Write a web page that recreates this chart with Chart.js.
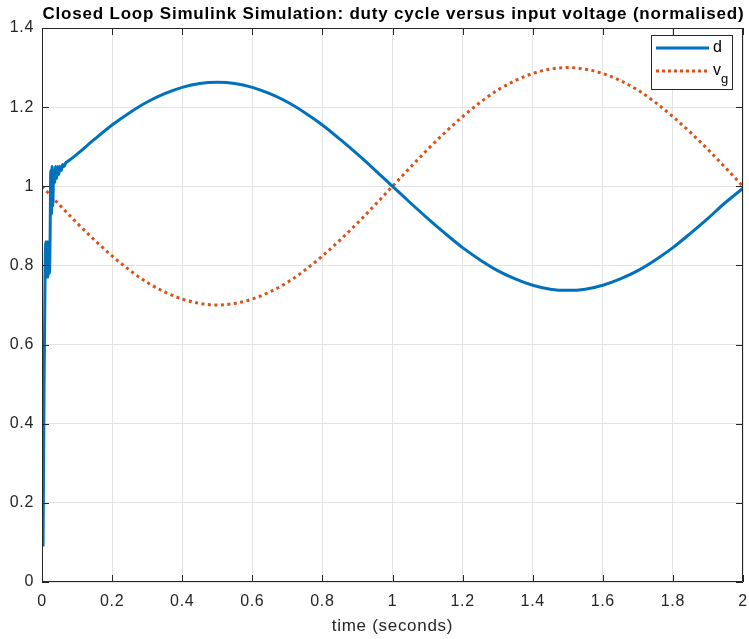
<!DOCTYPE html>
<html>
<head>
<meta charset="utf-8">
<script src="https://cdn.jsdelivr.net/npm/chart.js@4"></script>
<style>
html,body{margin:0;padding:0;background:#fff;}
canvas{display:block;}
</style>
</head>
<body>
<canvas id="c" width="749" height="639"></canvas>
<script>
// ---- data ----
const chartTitle = "Closed Loop Simulink Simulation: duty cycle versus input voltage (normalised)";
const xAxisLabel = "time (seconds)";
const xTicks = [0, 0.2, 0.4, 0.6, 0.8, 1, 1.2, 1.4, 1.6, 1.8, 2];
const yTicks = [0, 0.2, 0.4, 0.6, 0.8, 1, 1.2, 1.4];

const dTime = [0.003, 0.006, 0.009, 0.011, 0.013, 0.015, 0.017, 0.019, 0.021, 0.023, 0.025, 0.027,
  0.029, 0.031, 0.033, 0.036, 0.039, 0.042, 0.045, 0.048, 0.051, 0.055, 0.059, 0.063, 0.068, 0.072,
  0.10, 0.15, 0.20, 0.25, 0.30, 0.35, 0.40, 0.45, 0.50, 0.55, 0.60, 0.65, 0.70, 0.75, 0.80, 0.85,
  0.90, 0.95, 1.00, 1.05, 1.10, 1.15, 1.20, 1.25, 1.30, 1.35, 1.40, 1.45, 1.50, 1.55, 1.60, 1.65,
  1.70, 1.75, 1.80, 1.85, 1.90, 1.95, 2.00];
const dValues = [0.09, 0.50, 0.80, 0.86, 0.77, 0.86, 0.77, 0.86, 0.78, 0.86, 1.04, 0.93,
  1.05, 0.95, 1.04, 1.01, 1.05, 1.02, 1.05, 1.03, 1.05, 1.04, 1.055, 1.05, 1.06, 1.062,
  1.081, 1.119, 1.155, 1.186, 1.213, 1.234, 1.250, 1.260, 1.263, 1.260, 1.250, 1.234, 1.213, 1.186, 1.155, 1.119,
  1.081, 1.041, 1.000, 0.959, 0.919, 0.881, 0.845, 0.814, 0.787, 0.766, 0.750, 0.740, 0.737, 0.740, 0.750, 0.766,
  0.787, 0.814, 0.845, 0.881, 0.919, 0.959, 0.995];

const vgTime = [0, 0.05, 0.10, 0.15, 0.20, 0.25, 0.30, 0.35, 0.40, 0.45, 0.50, 0.55, 0.60, 0.65, 0.70,
  0.75, 0.80, 0.85, 0.90, 0.95, 1.00, 1.05, 1.10, 1.15, 1.20, 1.25, 1.30, 1.35, 1.40, 1.45, 1.50,
  1.55, 1.60, 1.65, 1.70, 1.75, 1.80, 1.85, 1.90, 1.95, 2.00];
const vgValues = [1.000, 0.953, 0.907, 0.864, 0.824, 0.788, 0.757, 0.733, 0.715, 0.704, 0.700, 0.704, 0.715, 0.733, 0.757,
  0.788, 0.824, 0.864, 0.907, 0.953, 1.000, 1.047, 1.093, 1.136, 1.176, 1.212, 1.243, 1.267, 1.285, 1.296, 1.300,
  1.296, 1.285, 1.267, 1.243, 1.212, 1.176, 1.136, 1.093, 1.047, 1.000];

const legendItems = [
  {main: "d", sub: "", color: "#0072BD", dash: []},
  {main: "v", sub: "g", color: "#D95319", dash: [3, 3]}
];

const FONT = "'Liberation Sans', Arial, sans-serif";
const TXT = "#262626";

const toPts = (xs, ys) => xs.map((x, i) => ({x: x, y: ys[i]}));

const framePlugin = {
  id: 'frame',
  beforeDraw(chart) {
    chart.ctx.letterSpacing = '0.7px';
  },
  afterDatasetsDraw(chart) {
    const ctx = chart.ctx, a = chart.chartArea;
    const xs = chart.scales.x, ys = chart.scales.y;
    ctx.save();
    ctx.strokeStyle = TXT;
    ctx.lineWidth = 1;
    ctx.beginPath();
    ctx.rect(Math.round(a.left) + 0.5, Math.round(a.top) + 0.5, Math.round(a.right - a.left) - 1, Math.round(a.bottom - a.top) - 1);
    ctx.stroke();
    // inward tick marks
    ctx.beginPath();
    xTicks.forEach(v => {
      const px = Math.round(xs.getPixelForValue(v)) + 0.5;
      ctx.moveTo(px, a.bottom); ctx.lineTo(px, a.bottom - 7);
      ctx.moveTo(px, a.top); ctx.lineTo(px, a.top + 7);
    });
    yTicks.forEach(v => {
      const py = Math.round(ys.getPixelForValue(v)) + 0.5;
      ctx.moveTo(a.left, py); ctx.lineTo(a.left + 7, py);
      ctx.moveTo(a.right, py); ctx.lineTo(a.right - 7, py);
    });
    ctx.stroke();

    // legend
    const lx = 651, ly = 35, lw = 81, lh = 54;
    ctx.fillStyle = "#fff";
    ctx.fillRect(lx, ly, lw, lh);
    ctx.strokeStyle = TXT;
    ctx.strokeRect(lx + 0.5, ly + 0.5, lw, lh);
    ctx.letterSpacing = '0px';
    legendItems.forEach((it, i) => {
      const y = ly + 13 + i * 23;
      ctx.strokeStyle = it.color;
      ctx.lineWidth = 3;
      ctx.setLineDash(it.dash);
      ctx.beginPath();
      ctx.moveTo(lx + 5, y); ctx.lineTo(lx + 58, y);
      ctx.stroke();
      ctx.setLineDash([]);
      ctx.fillStyle = "#000";
      ctx.textBaseline = "middle";
      ctx.textAlign = "left";
      ctx.font = "16px " + FONT;
      ctx.fillText(it.main, lx + 62, y);
      if (it.sub) {
        const w = ctx.measureText(it.main).width;
        ctx.font = "13px " + FONT;
        ctx.fillText(it.sub, lx + 62 + w, y + 8);
      }
    });

    // title
    ctx.fillStyle = "#000";
    ctx.font = "bold 17px " + FONT;
    ctx.letterSpacing = '0.8px';
    ctx.textAlign = "center";
    ctx.textBaseline = "middle";
    ctx.fillText(chartTitle, (a.left + a.right) / 2 + 1, 14);
    ctx.restore();
  }
};

new Chart(document.getElementById('c'), {
  type: 'scatter',
  data: {
    datasets: [
      {label: 'd', data: toPts(dTime, dValues), showLine: true, borderColor: '#0072BD', borderWidth: 3,
       pointRadius: 0, cubicInterpolationMode: 'monotone', fill: false},
      {label: 'vg', data: toPts(vgTime, vgValues), showLine: true, borderColor: '#D95319', borderWidth: 3,
       borderDash: [3, 3.5], pointRadius: 0, cubicInterpolationMode: 'monotone', fill: false}
    ]
  },
  options: {
    responsive: false,
    animation: false,
    layout: {padding: {top: 28, right: 6, left: 0, bottom: 0}},
    plugins: {legend: {display: false}, title: {display: false}, tooltip: {enabled: false}},
    scales: {
      x: {
        type: 'linear', min: 0, max: 2,
        afterBuildTicks: s => { s.ticks = xTicks.map(v => ({value: v})); },
        afterFit: s => { s.height = 57; s.paddingLeft = 0; s.paddingRight = 0; },
        grid: {color: '#e3e3e3', drawTicks: false},
        border: {display: false},
        ticks: {color: TXT, font: {family: FONT, size: 16}, padding: 10, maxRotation: 0,
                callback: v => String(v)},
        title: {display: true, text: xAxisLabel, color: TXT, font: {family: FONT, size: 17}, padding: {top: 0, bottom: 2}}
      },
      y: {
        type: 'linear', min: 0, max: 1.4,
        afterBuildTicks: s => { s.ticks = yTicks.map(v => ({value: v})); },
        afterFit: s => { s.width = 42; s.paddingTop = 0; s.paddingBottom = 0; },
        grid: {color: '#e3e3e3', drawTicks: false},
        border: {display: false},
        ticks: {color: TXT, font: {family: FONT, size: 16}, padding: 8,
                callback: v => String(Math.round(v * 10) / 10)}
      }
    }
  },
  plugins: [framePlugin]
});
</script>
</body>
</html>
